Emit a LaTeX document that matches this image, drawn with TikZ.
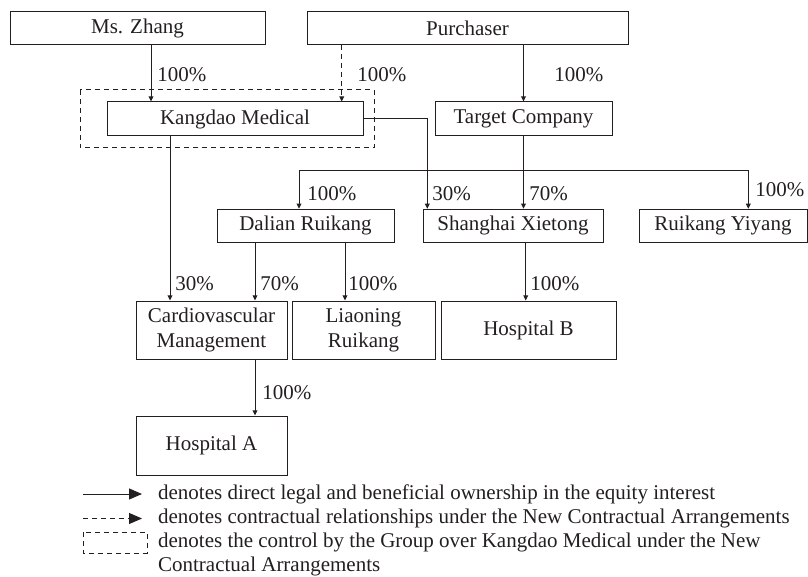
\documentclass[tikz,border=0pt]{standalone}
\usepackage{fontspec}
\setmainfont{Liberation Serif}
\usepackage{xcolor}
\usepackage{tikz}
\usetikzlibrary{positioning, arrows.meta}
\definecolor{ink}{HTML}{231F20}

\begin{document}
\begin{tikzpicture}[x=0.5pt, y=-0.5pt, font=\fontsize{10.5}{12.6}\selectfont, text=ink,
    entity/.style={rectangle, draw=ink, line width=0.5pt, inner sep=0pt, minimum height=16.5pt, align=center},
    tall/.style={entity, minimum height=29pt},
    own/.style={draw=ink, line width=0.5pt, -{Triangle[length=2.6pt, width=2.4pt]}},
    deal/.style={own, dash pattern=on 2.5pt off 2pt},
    bigown/.style={draw=ink, line width=0.5pt, -{Triangle[length=6.5pt, width=5.5pt]}},
    share/.style={anchor=west, inner sep=0pt},
    note/.style={anchor=west, inner sep=0pt}]
    \useasboundingbox (0,0) rectangle (808,577);

    % top row
    \node (zhang) [entity, minimum width=127.5pt] at (137.5,28.5) {Ms. Zhang};
    \node (purch) [entity, minimum width=160.5pt] at (467.5,28.5) {Purchaser};
    \node (kangdao) [entity, minimum width=128pt, minimum height=17pt] at (235,119) {Kangdao Medical};
    \node (target) [entity, minimum width=88.5pt, minimum height=17pt] at (523.5,119) {Target Company};
    \draw [ink, line width=0.5pt, dash pattern=on 2.5pt off 2pt] (80,90) rectangle (374,148);

    % second row
    \node (dalian) [entity, minimum width=88.5pt] at (305.5,225.75) {Dalian Ruikang};
    \node (shanghai) [entity, minimum width=90pt] at (513,225.75) {Shanghai Xietong};
    \node (yiyang) [entity, minimum width=84pt] at (723,225.75) {Ruikang Yiyang};

    % third row
    \node (cardio) [tall, minimum width=75.5pt] at (211.5,330) {Cardiovascular\\Management};
    \node (liaoning) [tall, minimum width=71.5pt] at (363.5,330) {Liaoning\\Ruikang};
    \node (hospb) [tall, minimum width=87.5pt] at (528.5,330) {Hospital B};
    \node (hospa) [tall, minimum width=75.5pt, minimum height=29.5pt] at (211.5,445.5) {Hospital A};

    % ownership
    \draw [own] (151,0 |- zhang.south) -- (151,0 |- kangdao.north);
    \draw [deal] (341.7,0 |- purch.south) -- (341.7,0 |- kangdao.north);
    \draw [own] (523.5,0 |- purch.south) -- (target.north);
    \draw [own] (kangdao.east) -| (427.3,0 |- shanghai.north);
    \draw [own] (target.south) -- (target.south |- shanghai.north);
    \coordinate (split) at (523.5,170.7);
    \draw [own] (split) -| (299,0 |- dalian.north);
    \draw [own] (split) -| (748.3,0 |- yiyang.north);
    \draw [own] (170,0 |- kangdao.south) -- (170,0 |- cardio.north);
    \draw [own] (255,0 |- dalian.south) -- (255,0 |- cardio.north);
    \draw [own] (345,0 |- dalian.south) -- (345,0 |- liaoning.north);
    \draw [own] (525.7,0 |- shanghai.south) -- (525.7,0 |- hospb.north);
    \draw [own] (255,0 |- cardio.south) -- (255,0 |- hospa.north);

    \node (p1) [share] at (157,75) {100\%};
    \node (p2) [share] at (357,75) {100\%};
    \node (p3) [share] at (554,75) {100\%};
    \node (p4) [share] at (307,194) {100\%};
    \node (p5) [share] at (432,194) {30\%};
    \node (p6) [share] at (529,194) {70\%};
    \node (p7) [share] at (755,190) {100\%};
    \node (p8) [share] at (175,284) {30\%};
    \node (p9) [share] at (260,284) {70\%};
    \node (p10) [share] at (348,284) {100\%};
    \node (p11) [share] at (530,284) {100\%};
    \node (p12) [share] at (262,393) {100\%};

    % legend
    \node (lg1) [note] at (157.7,494) {denotes direct legal and beneficial ownership in the equity interest};
    \node (lg2) [note] at (157.7,518.5) {denotes contractual relationships under the New Contractual Arrangements};
    \node (lg3) [note] at (157.7,542.5) {denotes the control by the Group over Kangdao Medical under the New};
    \node (lg4) [note] at (157.7,566) {Contractual Arrangements};
    \draw [bigown] (83,0 |- lg1.west) -- (142,0 |- lg1.west);
    \draw [bigown, dash pattern=on 2.5pt off 2pt] (83,0 |- lg2.west) -- (142,0 |- lg2.west);
    \draw [ink, line width=0.5pt, dash pattern=on 2.5pt off 2pt] (83,532) rectangle (147,553);
\end{tikzpicture}
\end{document}
